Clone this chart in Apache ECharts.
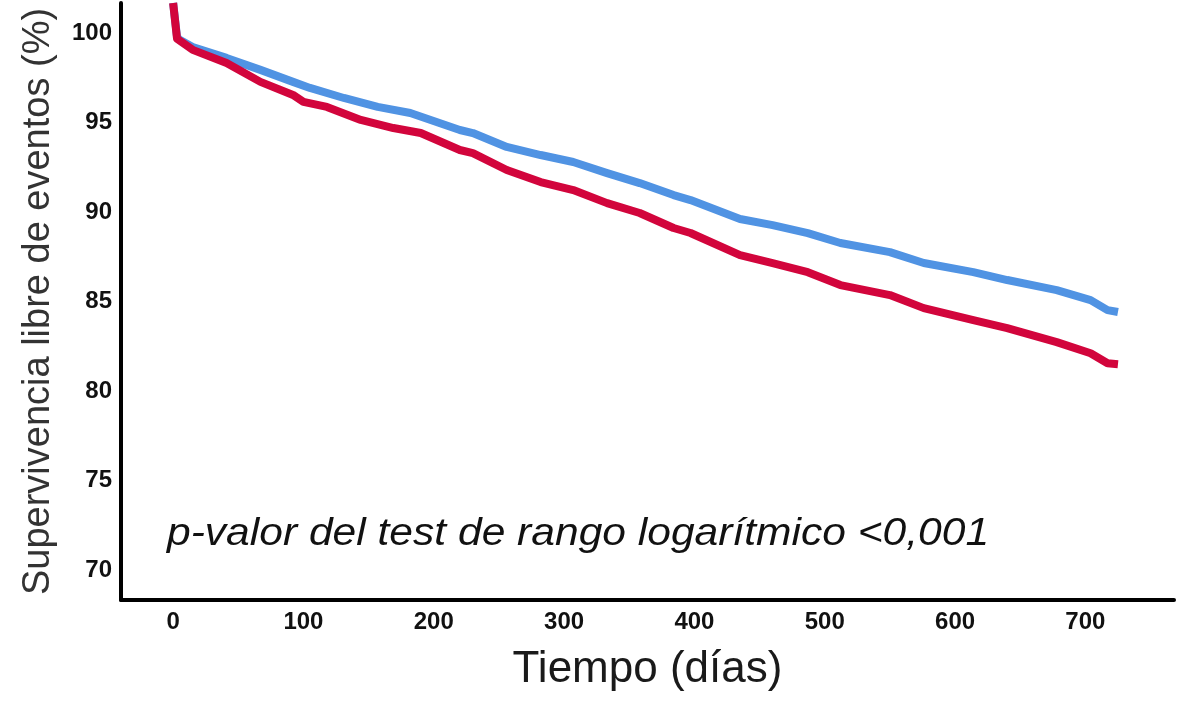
<!DOCTYPE html>
<html>
<head>
<meta charset="utf-8">
<script src="https://cdn.jsdelivr.net/npm/echarts@6/dist/echarts.min.js"></script>
<style>
  html, body { margin: 0; padding: 0; background: #ffffff; }
  #chart { width: 1200px; height: 702px; }
</style>
</head>
<body>
<div id="chart"></div>
<script>
// ---- Data ----
const blueDays = [0, 3, 5, 15, 41, 67, 92, 105, 131, 157, 182, 220, 230, 256, 282, 307, 333, 358, 384, 397, 435, 460, 487, 512, 550, 576, 614, 640, 678, 704, 717, 725];
const blueSurv = [101.7, 99.8, 99.64, 99.24, 98.63, 97.96, 97.29, 96.95, 96.39, 95.89, 95.55, 94.6, 94.43, 93.65, 93.2, 92.81, 92.19, 91.63, 90.96, 90.68, 89.62, 89.28, 88.83, 88.28, 87.77, 87.16, 86.65, 86.21, 85.65, 85.09, 84.53, 84.42];
const redDays = [0, 3, 15, 41, 67, 92, 100, 118, 144, 169, 190, 220, 230, 256, 282, 307, 333, 358, 384, 397, 435, 460, 487, 512, 550, 576, 614, 640, 678, 704, 717, 725];
const redSurv = [101.7, 99.7, 99.08, 98.35, 97.29, 96.56, 96.17, 95.89, 95.16, 94.71, 94.43, 93.48, 93.31, 92.36, 91.69, 91.24, 90.51, 89.96, 89.12, 88.84, 87.6, 87.16, 86.65, 85.93, 85.37, 84.64, 83.97, 83.52, 82.74, 82.12, 81.56, 81.5];
const xTicks = [0, 100, 200, 300, 400, 500, 600, 700];
const yTicks = [70, 75, 80, 85, 90, 95, 100];
const xTitle = 'Tiempo (días)';
const yTitle = 'Supervivencia libre de eventos (%)';
const note = 'p-valor del test de rango logarítmico <0,001';

const zip = (xs, ys) => xs.map((x, i) => [x, ys[i]]);

const chart = echarts.init(document.getElementById('chart'), null, { renderer: 'canvas' });
const FONT = '"Liberation Sans", Arial, sans-serif';

chart.setOption({
  animation: false,
  backgroundColor: '#ffffff',
  grid: { left: 121, right: 26, top: 3, bottom: 102, containLabel: false, outerBoundsMode: 'none' },
  xAxis: {
    type: 'value',
    min: -40,
    max: 768,
    name: xTitle,
    nameLocation: 'middle',
    nameGap: 48,
    nameTextStyle: { fontFamily: FONT, fontSize: 44, color: '#1a1a1a' },
    axisLine: { show: true, onZero: false, lineStyle: { color: '#000', width: 4 } },
    axisTick: { show: false },
    splitLine: { show: false },
    axisLabel: {
      customValues: xTicks,
      fontFamily: FONT, fontSize: 24, fontWeight: 'bold', color: '#111', margin: 10
    }
  },
  yAxis: {
    type: 'value',
    min: 68.32,
    max: 101.7,
    name: yTitle,
    nameLocation: 'middle',
    nameRotate: 90,
    nameGap: 63,
    nameTextStyle: { fontFamily: FONT, fontSize: 38, color: '#333' },
    axisLine: { show: true, onZero: false, lineStyle: { color: '#000', width: 4 } },
    axisTick: { show: false },
    splitLine: { show: false },
    axisLabel: {
      customValues: yTicks,
      fontFamily: FONT, fontSize: 24, fontWeight: 'bold', color: '#111', margin: 9
    }
  },
  series: [
    {
      name: 'Grupo 1',
      type: 'line',
      data: zip(blueDays, blueSurv),
      showSymbol: false,
      symbol: 'none',
      lineStyle: { color: '#5093e3', width: 8, cap: 'butt', join: 'round' },
      z: 2
    },
    {
      name: 'Grupo 2',
      type: 'line',
      data: zip(redDays, redSurv),
      showSymbol: false,
      symbol: 'none',
      lineStyle: { color: '#d2053c', width: 8, cap: 'butt', join: 'round' },
      z: 3
    }
  ],
  graphic: [
    {
      type: 'text',
      x: 167,
      y: 534,
      scaleX: 1.12,
      style: {
        text: note,
        font: 'italic 38px "Liberation Sans", Arial, sans-serif',
        fill: '#111',
        textVerticalAlign: 'middle'
      }
    }
  ]
});
</script>
</body>
</html>
